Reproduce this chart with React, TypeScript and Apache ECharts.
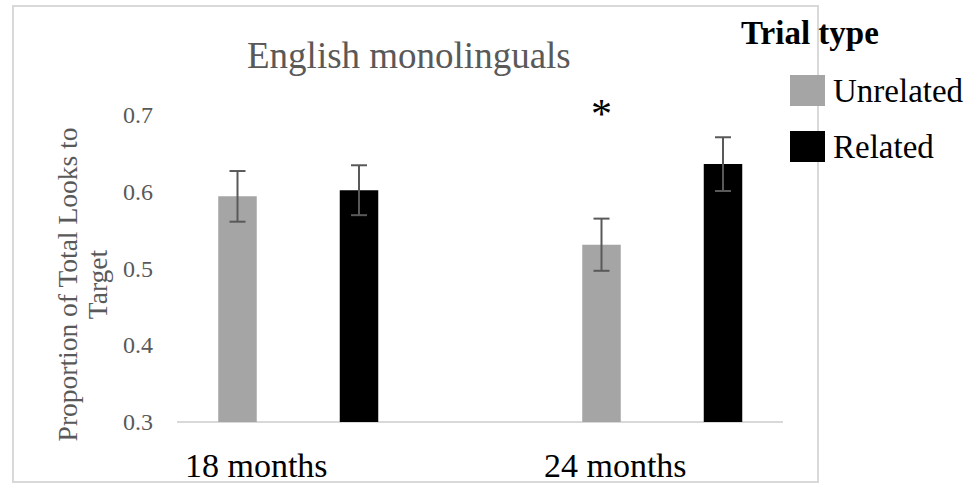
import React, { useEffect, useRef } from 'react';
import * as echarts from 'echarts';

// ---- data ----
const categories = ['18 months', '24 months'];
const seriesNames = ['Unrelated', 'Related'];
const unrelated = [0.594, 0.531];
const related = [0.602, 0.636];
const unrelatedErr = [0.033, 0.034];
const relatedErr = [0.0325, 0.035];
const unrelatedMarks = ['', '*'];
const relatedMarks = ['', ''];
const markValue = 0.701; // where the significance star sits
const yMin = 0.3;
const yMax = 0.7;
const yInterval = 0.1;

// ---- styles ----
const W = 976;
const H = 483;
const SERIF = 'Liberation Serif';
const GRAY = '#a5a5a5';
const BLACK = '#000000';
const TEXT_GRAY = '#595959';
const GRID_LEFT = 116.25;
const GRID_RIGHT = 131.75;
const GRID_TOP = 115;
const GRID_BOTTOM = 61;
const BAR_W = 38.5;
const BAR_GAP_PX = 83;
const Y_AXIS_SHIFT = 60.75;

export default function App() {
  const ref = useRef<HTMLDivElement>(null);

  useEffect(() => {
    if (!ref.current) return;
    const chart = echarts.init(ref.current, undefined, { renderer: 'svg', width: W, height: H });

    const errData = (means: number[], errs: number[], marks: string[]) =>
      means.map((m, i) => [i, m, errs[i], marks[i]]);

    const makeErrSeries = (name: string, sIdx: number, means: number[], errs: number[], marks: string[]) => ({
      type: 'custom',
      name,
      clip: false,
      silent: true,
      z: 10,
      encode: { x: 0, y: 1 },
      data: errData(means, errs, marks),
      renderItem: (params: any, api: any) => {
        const c = api.value(0);
        const m = api.value(1);
        const e = api.value(2);
        const mark = marks[params.dataIndex];
        const offset = (sIdx === 0 ? -1 : 1) * (BAR_W + BAR_GAP_PX) / 2;
        const base = api.coord([c, m]);
        const x = base[0] + offset;
        const yHi = api.coord([c, m + e])[1];
        const yLo = api.coord([c, m - e])[1];
        const st = { stroke: TEXT_GRAY, lineWidth: 2 };
        const children: any[] = [
          { type: 'line', shape: { x1: x, y1: yHi, x2: x, y2: yLo }, style: st },
          { type: 'line', shape: { x1: x - 8, y1: yHi, x2: x + 8, y2: yHi }, style: st },
          { type: 'line', shape: { x1: x - 8, y1: yLo, x2: x + 8, y2: yLo }, style: st },
        ];
        if (mark) {
          const yS = api.coord([c, markValue])[1];
          children.push({
            type: 'text',
            x,
            y: yS,
            style: {
              text: mark,
              fontFamily: SERIF,
              fontSize: 42,
              fill: BLACK,
              align: 'center',
              verticalAlign: 'middle',
            },
          });
        }
        return { type: 'group', children };
      },
    });

    const axisY = H - GRID_BOTTOM;
    const axisX1 = GRID_LEFT + Y_AXIS_SHIFT;
    const axisX2 = 783;

    chart.setOption({
      animation: false,
      backgroundColor: '#ffffff',
      textStyle: { fontFamily: SERIF },
      title: [
        {
          text: 'English monolinguals',
          left: 247,
          top: 37,
          padding: 0,
          textStyle: { fontFamily: SERIF, fontSize: 37, fontWeight: 'normal', color: TEXT_GRAY },
        },
        {
          text: 'Trial type',
          left: 741,
          top: 16,
          padding: 0,
          textStyle: { fontFamily: SERIF, fontSize: 33, fontWeight: 'bold', color: BLACK },
        },
      ],
      legend: {
        data: seriesNames,
        orient: 'vertical',
        left: 790,
        top: 74,
        padding: 0,
        itemWidth: 35,
        itemHeight: 31,
        itemGap: 23,
        icon: 'rect',
        selectedMode: false,
        textStyle: {
          fontFamily: SERIF,
          fontSize: 33,
          lineHeight: 31,
          color: BLACK,
          padding: [0, 0, 0, 3],
        },
      },
      grid: {
        left: GRID_LEFT,
        right: GRID_RIGHT,
        top: GRID_TOP,
        bottom: GRID_BOTTOM,
        containLabel: false,
        outerBoundsMode: 'none',
      },
      xAxis: {
        type: 'category',
        data: categories,
        axisLine: { show: false },
        axisTick: { show: false },
        axisLabel: {
          margin: 26,
          fontFamily: SERIF,
          fontSize: 34,
          color: BLACK,
          formatter: (v: string) => (v === categories[0] ? `{a|${v}}` : `{b|${v}}`),
          rich: {
            a: { fontFamily: SERIF, fontSize: 34, color: BLACK, padding: [0, 84, 0, 0] },
            b: { fontFamily: SERIF, fontSize: 34, color: BLACK, padding: [0, 94, 0, 0] },
          },
        },
      },
      yAxis: {
        type: 'value',
        min: yMin,
        max: yMax,
        interval: yInterval,
        offset: -Y_AXIS_SHIFT,
        axisLine: { show: false },
        axisTick: { show: false },
        splitLine: { show: false },
        axisLabel: {
          margin: 24,
          fontFamily: SERIF,
          fontSize: 24,
          color: TEXT_GRAY,
          formatter: (v: number) => v.toFixed(1),
        },
        name: 'Proportion of Total Looks to\nTarget',
        nameLocation: 'middle',
        nameRotate: 90,
        nameGap: 92,
        nameTextStyle: {
          fontFamily: SERIF,
          fontSize: 27.5,
          lineHeight: 30,
          color: TEXT_GRAY,
          align: 'center',
          verticalAlign: 'middle',
          padding: [0, 32, 0, 0],
        },
      },
      series: [
        {
          type: 'bar',
          name: seriesNames[0],
          data: unrelated,
          barWidth: BAR_W,
          barGap: `${(BAR_GAP_PX / BAR_W) * 100}%`,
          itemStyle: { color: GRAY },
          silent: true,
        },
        {
          type: 'bar',
          name: seriesNames[1],
          data: related,
          barWidth: BAR_W,
          barGap: `${(BAR_GAP_PX / BAR_W) * 100}%`,
          itemStyle: { color: BLACK },
          silent: true,
        },
        makeErrSeries('Unrelated error', 0, unrelated, unrelatedErr, unrelatedMarks),
        makeErrSeries('Related error', 1, related, relatedErr, relatedMarks),
      ],
      graphic: [
        {
          type: 'rect',
          shape: { x: 13, y: 6, width: 805, height: 476 },
          style: { fill: 'none', stroke: '#d9d9d9', lineWidth: 2 },
          silent: true,
          z: -1,
        },
        {
          type: 'line',
          shape: { x1: axisX1, y1: axisY, x2: axisX2, y2: axisY },
          style: { stroke: '#d9d9d9', lineWidth: 2 },
          silent: true,
        },
      ],
    });

    return () => chart.dispose();
  }, []);

  return (
    <div
      ref={ref}
      style={{ position: 'absolute', left: 0, top: 0, width: W, height: H }}
    />
  );
}
